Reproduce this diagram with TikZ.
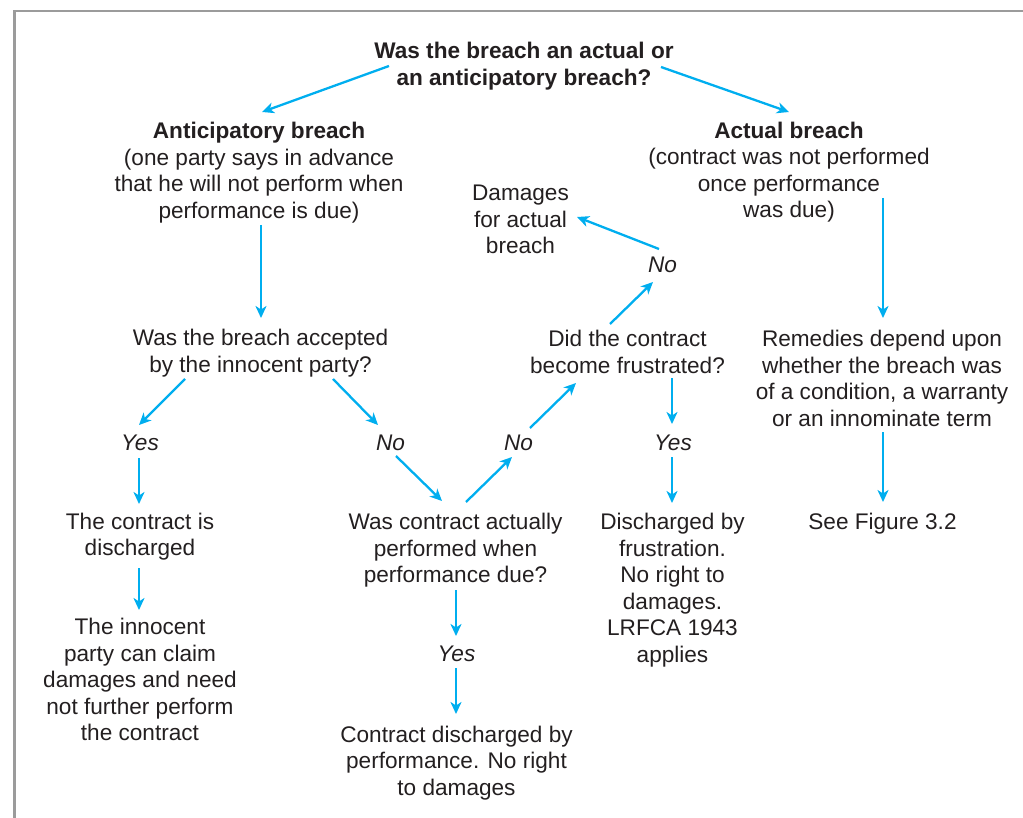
\documentclass[tikz,border=0pt]{standalone}
\usepackage{fontspec}
\setmainfont{Liberation Sans}
\usetikzlibrary{arrows.meta,calc}
\definecolor{cy}{HTML}{00AEEF}
\definecolor{tx}{HTML}{231F20}
\definecolor{fr}{HTML}{9B9B9B}
\begin{document}
\begin{tikzpicture}[x=1pt,y=-1pt,
  lbl/.style={text=tx, align=center, inner sep=0pt, font=\fontsize{22.6}{26.5}\selectfont},
  bl/.style={lbl, font=\bfseries\fontsize{22.6}{26.5}\selectfont},
  itl/.style={lbl, font=\itshape\fontsize{22.6}{26.5}\selectfont},
  arr/.style={cy, line width=2.3pt, -{Stealth[length=12pt,width=11pt,inset=3.5pt]}}]
\useasboundingbox (0,0) rectangle (1023,818);
\draw[fr, line width=2.5pt] (14.7,818) -- (14.7,11.2) -- (1023,11.2);

\node[bl] (q1) at (524,66.7) {\strut Was the breach an actual or\\an anticipatory breach?\strut};
\node[lbl] (ant) at (259,173.2) {\strut{\bfseries Anticipatory breach}\\(one party says in advance\\that he will not perform when\\performance is due)\strut};
\node[lbl] (act) at (789,172.7) {\strut{\bfseries Actual breach}\\(contract was not performed\\once performance\\was due)\strut};
\node[lbl] (dam) at (520.5,222.2) {\strut Damages\\for actual\\breach\strut};
\node[itl] (noup) at (662.5,267.7) {\strut No\strut};
\node[lbl] (fru) at (627.5,354.7) {\strut Did the contract\\become frustrated?\strut};
\node[lbl] (acc) at (260.5,353.7) {\strut Was the breach accepted\\by the innocent party?\strut};
\node[lbl] (rem) at (882,381.2) {\strut Remedies depend upon\\whether the breach was\\of a condition, a warranty\\or an innominate term\strut};
\node[itl] (yesL) at (140,444.7) {\strut Yes\strut};
\node[itl] (noL) at (390.5,444.7) {\strut No\strut};
\node[itl] (noM) at (518.5,444.7) {\strut No\strut};
\node[itl] (yesR) at (673,444.7) {\strut Yes\strut};
\node[lbl] (dis) at (140,537.2) {\strut The contract is\\discharged\strut};
\node[lbl] (perf) at (455.5,550.7) {\strut Was contract actually\\performed when\\performance due?\strut};
\node[lbl] (fdis) at (672.5,590.7) {\strut Discharged by\\frustration.\\No right to\\damages.\\LRFCA 1943\\applies\strut};
\node[lbl] (see) at (882.5,523.7) {\strut See Figure 3.2\strut};
\node[lbl] (inn) at (140,682.2) {\strut The innocent\\party can claim\\damages and need\\not further perform\\the contract\strut};
\node[itl] (yesB) at (456.5,655.7) {\strut Yes\strut};
\node[lbl] (cdp) at (456.5,763.2) {\strut Contract discharged by\\performance. No right\\to damages\strut};

\draw[arr] ($(q1)+(-135,-0.7)$) -- ($(ant)+(3,-61.2)$);
\draw[arr] ($(q1)+(137,0.3)$) -- ($(act)+(0,-60.7)$);
\draw[arr] ($(ant)+(2,51.8)$) -- ($(acc)+(0.5,-35.7)$);
\draw[arr] ($(act)+(94,25.3)$) -- ($(rem)+(1,-63.2)$);
\draw[arr] ($(acc)+(-75.5,25.3)$) -- ($(yesL)+(-1,-19.7)$);
\draw[arr] ($(acc)+(72.5,25.3)$) -- ($(noL)+(-12.5,-19.7)$);
\draw[arr] ($(yesL)+(-1,13.3)$) -- ($(dis)+(-1,-33.2)$);
\draw[arr] ($(dis)+(-1,30.8)$) -- ($(inn)+(-1,-72.2)$);
\draw[arr] ($(noL)+(5.5,11.3)$) -- ($(perf)+(-13.5,-49.7)$);
\draw[arr] ($(perf)+(10.5,-48.7)$) -- ($(noM)+(-6.5,12.3)$);
\draw[arr] ($(noM)+(11.5,-16.7)$) -- ($(fru)+(-51.5,28.3)$);
\draw[arr] ($(fru)+(-17.5,-30.7)$) -- ($(noup)+(-9.5,14.3)$);
\draw[arr] ($(noup)+(-3.5,-18.7)$) -- ($(dam)+(56.5,-5.2)$);
\draw[arr] ($(fru)+(44.5,23.3)$) -- ($(yesR)+(-1,-20.7)$);
\draw[arr] ($(yesR)+(-1,12.3)$) -- ($(fdis)+(-0.5,-87.7)$);
\draw[arr] ($(perf)+(0.5,39.3)$) -- ($(yesB)+(-0.5,-19.7)$);
\draw[arr] ($(yesB)+(-0.5,12.3)$) -- ($(cdp)+(-0.5,-49.2)$);
\draw[arr] ($(rem)+(1,50.8)$) -- ($(see)+(0.5,-21.7)$);
\end{tikzpicture}
\end{document}
